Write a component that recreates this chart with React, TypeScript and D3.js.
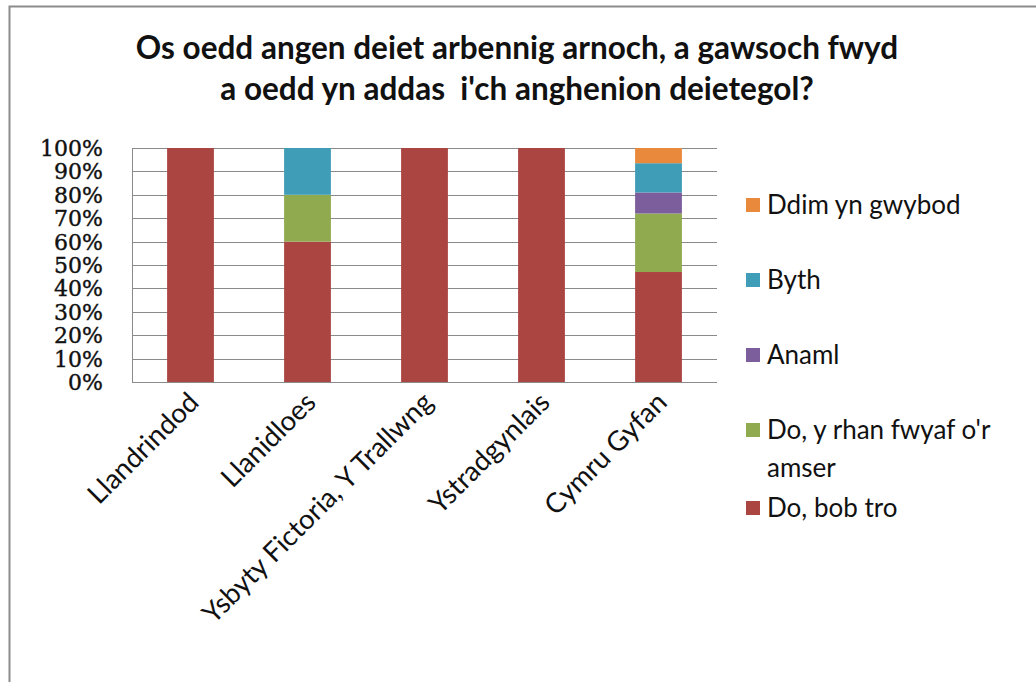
import React from "react";
import * as d3 from "d3";

const categories = ["Llandrindod", "Llanidloes", "Ysbyty Fictoria, Y Trallwng", "Ystradgynlais", "Cymru Gyfan"];
const seriesNames = ["Do, bob tro", "Do, y rhan fwyaf o'r amser", "Anaml", "Byth", "Ddim yn gwybod"];
const doBobTro = [100, 60, 100, 100, 47];
const doRhanFwyaf = [0, 20, 0, 0, 25];
const anaml = [0, 0, 0, 0, 9];
const byth = [0, 20, 0, 0, 12.5];
const ddimYnGwybod = [0, 0, 0, 0, 6.5];
const yTicks = [0, 10, 20, 30, 40, 50, 60, 70, 80, 90, 100];
const titleLines = ["Os oedd angen deiet arbennig arnoch, a gawsoch fwyd", "a oedd yn addas  i'ch anghenion deietegol?"];

const colors = ["#AB4542", "#8FAA4F", "#7B5E9B", "#3F9DB7", "#E8893C"];

const App = () => {
	const width = 1036;
	const height = 682;
	const margin = { top: 148, left: 132, right: 319, bottom: 300 };

	const rows = categories.map((c, i) => ({
		cat: c,
		0: doBobTro[i],
		1: doRhanFwyaf[i],
		2: anaml[i],
		3: byth[i],
		4: ddimYnGwybod[i],
	}));
	const stacked = d3.stack().keys(["0", "1", "2", "3", "4"])(rows as any);

	const x = d3
		.scaleBand()
		.domain(categories)
		.range([margin.left, width - margin.right])
		.paddingInner(0.6)
		.paddingOuter(0.3);

	const y = d3
		.scaleLinear()
		.domain([0, 100])
		.range([height - margin.bottom, margin.top]);

	// legend rows drawn top-down in reverse series order
	const legendY = [205, 280, 355, 430, 508];
	const legendOrder = [4, 3, 2, 1, 0];

	React.useEffect(() => {
		document.body.style.margin = "0";
	}, []);

	return (
		<svg width={width} height={height} style={{ display: "block", background: "#fff" }}>
			<rect x={9.5} y={6.5} width={width + 10} height={height + 10} fill="#fff" stroke="#8c8c8c" strokeWidth={2} />
			<g fontFamily="Lato, 'Open Sans', sans-serif" fontWeight="bold" fontSize={31.5} fill="#111" textAnchor="middle">
				{titleLines.map((t, i) => (
					<text key={i} x={517} y={59 + i * 41} style={{ whiteSpace: "pre" }}>
						{t}
					</text>
				))}
			</g>
			{yTicks.map((t) => (
				<line key={t} x1={margin.left} x2={width - margin.right} y1={Math.round(y(t)) + 0.5} y2={Math.round(y(t)) + 0.5} stroke="#8a8a8a" />
			))}
			<line x1={margin.left + 0.5} x2={margin.left + 0.5} y1={y(100)} y2={y(0)} stroke="#8a8a8a" />
			{stacked.map((s, si) => (
				<g key={si} fill={colors[si]}>
					{s.map((d: any, i) =>
						d[1] - d[0] > 0 ? (
							<rect key={i} x={x(categories[i])} width={x.bandwidth()} y={y(d[1])} height={y(d[0]) - y(d[1])} />
						) : null
					)}
				</g>
			))}
			<g fontFamily="'DejaVu Serif', serif" fontSize={22} fill="#111" stroke="#111" strokeWidth={0.4} textAnchor="end">
				{yTicks.map((t) => (
					<text key={t} x={103} y={y(t)} dy="0.36em">
						{t + "%"}
					</text>
				))}
			</g>
			<g fontFamily="Lato, 'Open Sans', sans-serif" fontSize={27.5} fill="#111" textAnchor="end">
				{categories.map((c) => (
					<text key={c} transform={`translate(${(x(c) as number) + x.bandwidth() / 2 + 10},${y(0) + 22}) rotate(-45)`}>
						{c}
					</text>
				))}
			</g>
			<g fontFamily="Lato, 'Open Sans', sans-serif" fontSize={26} fill="#111">
				{legendOrder.map((si, i) => {
					const lines = si === 1 ? ["Do, y rhan fwyaf o'r", "amser"] : [seriesNames[si]];
					return (
						<g key={si}>
							<rect x={746} y={legendY[i] - 7} width={14} height={14} fill={colors[si]} />
							{lines.map((l, li) => (
								<text key={li} x={767} y={legendY[i] + li * 38} dy="0.36em">
									{l}
								</text>
							))}
						</g>
					);
				})}
			</g>
		</svg>
	);
};

export default App;
